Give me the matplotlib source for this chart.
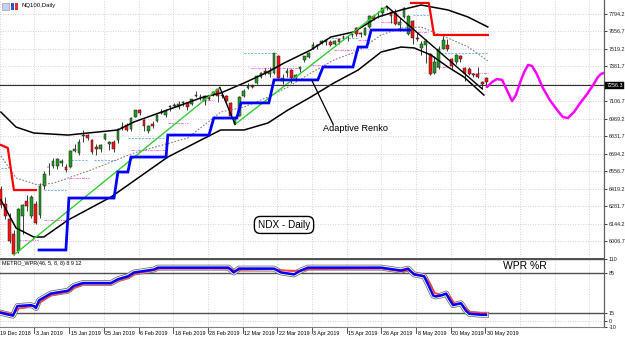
import matplotlib
matplotlib.use("Agg")
import matplotlib.pyplot as plt
import matplotlib.patheffects as pe
import matplotlib.transforms as mtransforms
from matplotlib.patches import Rectangle

plt.rcParams['font.family'] = ['Liberation Sans', 'DejaVu Sans']

# ---------------- data ----------------
opens = [6420, 6300, 6180, 6060, 5930, 6200, 6320, 6200, 6300, 6210,
         6440, 6590, 6600, 6600, 6620, 6590, 6590, 6715, 6700, 6830,
         6840, 6800, 6750, 6730, 6810, 6770, 6790, 6800, 6900, 6920,
         6885, 6985, 7040, 6960, 6870, 6930, 6950, 7020, 7000, 7060,
         7070, 7060, 7095, 7090, 7085, 7160, 7140, 7110, 7140, 7165,
         7200, 7155, 7150, 7090, 6930, 6990, 7150, 7210, 7225, 7250,
         7300, 7345, 7320, 7330, 7460, 7270, 7330, 7350, 7290, 7360,
         7430, 7455, 7520, 7550, 7565, 7570, 7570, 7560, 7595, 7610,
         7615, 7630, 7680, 7640, 7630, 7690, 7780, 7800, 7800, 7840,
         7810, 7800, 7710, 7770, 7640, 7740, 7600, 7530, 7550, 7480,
         7330, 7380, 7520, 7550, 7440, 7420, 7460, 7370, 7360, 7320,
         7320, 7260, 7290]
highs = [6440, 6350, 6230, 6090, 6270, 6300, 6370, 6370, 6320, 6460,
         6560, 6620, 6660, 6660, 6650, 6610, 6725, 6770, 6810, 6880,
         6850, 6810, 6770, 6770, 6860, 6795, 6800, 6900, 6945, 6935,
         6980, 7040, 7045, 6970, 6920, 6950, 7010, 7045, 7050, 7075,
         7090, 7110, 7110, 7100, 7125, 7190, 7165, 7155, 7160, 7185,
         7215, 7170, 7155, 7100, 6990, 7145, 7200, 7250, 7245, 7310,
         7340, 7370, 7380, 7490, 7470, 7320, 7370, 7360, 7320, 7385,
         7465, 7495, 7570, 7560, 7590, 7600, 7590, 7590, 7600, 7630,
         7625, 7650, 7690, 7650, 7690, 7790, 7795, 7820, 7845, 7860,
         7815, 7830, 7760, 7850, 7785, 7750, 7650, 7580, 7600, 7490,
         7460, 7540, 7620, 7600, 7450, 7480, 7470, 7380, 7380, 7330,
         7380, 7270, 7300]
lows = [6270, 6180, 5990, 5897, 5915, 6060, 6240, 6190, 6140, 6190,
        6420, 6530, 6580, 6570, 6600, 6550, 6585, 6705, 6680, 6790,
        6800, 6690, 6680, 6710, 6800, 6720, 6710, 6780, 6880, 6870,
        6870, 6980, 6995, 6870, 6860, 6900, 6945, 7005, 6980, 7030,
        7060, 7050, 7070, 7040, 7080, 7140, 7120, 7080, 7120, 7145,
        7100, 7130, 7100, 6975, 6925, 6990, 7140, 7200, 7210, 7240,
        7290, 7310, 7300, 7320, 7280, 7240, 7300, 7250, 7270, 7340,
        7420, 7450, 7515, 7520, 7560, 7550, 7540, 7550, 7560, 7590,
        7580, 7610, 7620, 7615, 7625, 7685, 7745, 7760, 7780, 7825,
        7720, 7710, 7660, 7765, 7630, 7560, 7580, 7470, 7410, 7310,
        7320, 7360, 7515, 7500, 7350, 7400, 7420, 7270, 7310, 7300,
        7290, 7200, 7230]
closes = [6290, 6200, 6010, 5905, 6262, 6290, 6280, 6355, 6150, 6443,
          6531, 6586, 6634, 6650, 6638, 6568, 6713, 6732, 6788, 6843,
          6815, 6711, 6728, 6766, 6848, 6789, 6732, 6887, 6906, 6883,
          6978, 7037, 7013, 6910, 6910, 6913, 7002, 7016, 7027, 7069,
          7080, 7087, 7097, 7061, 7122, 7152, 7142, 7148, 7128, 7180,
          7150, 7152, 7111, 6989, 6976, 7142, 7188, 7230, 7220, 7305,
          7330, 7330, 7345, 7484, 7289, 7290, 7346, 7290, 7310, 7378,
          7460, 7490, 7550, 7546, 7583, 7593, 7551, 7582, 7576, 7614,
          7610, 7631, 7637, 7638, 7680, 7780, 7752, 7802, 7840, 7846,
          7781, 7716, 7734, 7845, 7777, 7607, 7599, 7556, 7585, 7323,
          7414, 7520, 7592, 7517, 7382, 7472, 7437, 7326, 7318, 7310,
          7295, 7244, 7256]

date_labels = ["19 Dec 2018", "3 Jan 2019", "15 Jan 2019", "25 Jan 2019", "6 Feb 2019",
               "18 Feb 2019", "28 Feb 2019", "12 Mar 2019", "22 Mar 2019", "3 Apr 2019",
               "15 Apr 2019", "26 Apr 2019", "8 May 2019", "20 May 2019", "30 May 2019"]

# bands: (bar index, price)
upper_x = [0, 3.5, 7.6, 15.5, 27.0, 30.7, 46.1, 50.7, 56.1, 61.6, 65.3, 71.5, 76.1,
           81.4, 87.0, 92.3, 96.9, 103.1, 107.7, 112.3]
upper_y = [7022, 6904, 6857, 6841, 6881, 6944, 7133, 7172, 7251, 7338, 7408, 7511, 7613,
           7653, 7771, 7826, 7865, 7826, 7771, 7692]
lower_x = [0, 3.5, 7.6, 9.9, 15.5, 25.4, 38.5, 50.7, 56.1, 61.6, 66.2, 71.5, 76.8,
           82.4, 87.7, 92.3, 95.3, 99.2, 103.1, 106.8, 111.4]
lower_y = [6330, 6109, 6038, 6038, 6172, 6353, 6668, 6881, 6881, 6936, 7038, 7141, 7251,
           7353, 7495, 7534, 7527, 7471, 7377, 7298, 7156]
mid_x = [0, 3.5, 8.5, 12.2, 20.8, 30.7, 43.1, 50.7, 56.1, 61.6, 66.2, 71.5, 76.8,
         82.4, 87.7, 92.3, 96.9, 103.1, 107.7, 112.3]
mid_y = [6676, 6503, 6448, 6463, 6566, 6700, 6818, 7022, 7062, 7141, 7219, 7330, 7432,
         7503, 7629, 7684, 7692, 7605, 7536, 7425]

# adaptive renko steps
renko_blue_x = [8.8, 15.0, 15.7, 26.1, 27.0, 29.3, 30.0, 38.1, 38.5, 48.0, 49.1, 54.4,
                55.4, 61.8, 63.0, 73.1, 74.3, 81.2, 82.4, 84.4, 85.4, 94.3]
renko_blue_y = [5936, 5936, 6345, 6345, 6550, 6550, 6668, 6668, 6841, 6841, 6975, 6975,
                7094, 7094, 7275, 7275, 7377, 7377, 7534, 7534, 7668, 7668]
renko_red_left_x = [0, 1.6, 3.0, 8.1]
renko_red_left_y = [6763, 6739, 6408, 6408]
renko_red_right_x = [94.6, 98.7, 99.9, 112.3]
renko_red_right_y = [7881, 7881, 7629, 7629]

# zigzag legs
zz_green = [((3, 5897), (50.5, 7215)), ((54, 6925), (89, 7855))]
zz_black = [((50.5, 7215), (54, 6925)), ((89, 7855), (111, 7205))]

# support / resistance dashes: (price, start bar, end bar)
blue_levels = [(6582, 0, 1.6), (6408, 9.9, 15.0), (6644, 15.5, 20.0), (6644, 21.5, 26.5),
               (6818, 29.3, 38.5), (6936, 39.2, 41.5), (7487, 56.1, 63.9), (7605, 75.4, 82.4),
               (7786, 95.0, 98.5), (7487, 101.5, 112.3)]
pink_levels = [(6014, 3.9, 8.5), (6172, 9.9, 15.5), (6503, 15.7, 20.3), (6723, 30.0, 38.5),
               (6936, 38.5, 43.1), (7117, 46.1, 49.1), (7369, 57.7, 69.2), (7393, 71.5, 75.4),
               (7511, 76.8, 81.4), (7590, 82.4, 85.4), (7731, 87.7, 92.3), (7652, 94.6, 98.5),
               (7377, 100.3, 103.1), (7330, 108.4, 112.3)]

# magenta projection
proj_x = [112.1, 113.3, 114.4, 115.6, 116.7, 117.9, 118.8, 119.7, 120.7, 121.6, 122.5,
          123.6, 125.0, 126.6, 128.3, 129.6, 130.8, 132.2, 133.6, 135.2, 136.6, 137.7,
          138.4, 139.1]
proj_y = [7219, 7259, 7282, 7275, 7196, 7109, 7156, 7251, 7338, 7393, 7385,
          7322, 7212, 7117, 7038, 6983, 6975, 7023, 7093, 7164, 7235, 7298,
          7322, 7330]

price_ticks = [7794.2, 7656.7, 7519.2, 7381.7, 7244.2, 7106.7, 6969.2, 6831.7,
               6694.2, 6556.7, 6419.2, 6281.7, 6144.2, 6006.7]
last_price = 7256.3
last_line = 7232

# WPR sub-window
wpr_x = [0, 2.8, 3.8, 6.9, 7.6, 8.1, 8.8, 11.5, 15.5, 16.8, 18.9, 25.4, 27.0, 29.3, 30.7,
         35.3, 36.2, 39.9, 52.5, 53.7, 54.9, 63.0, 64.6, 67.6, 69.2, 70.8, 76.8, 87.7,
         90.7, 92.3, 93.9, 95.3, 97.6, 98.7, 99.7, 100.3, 101.5, 102.7, 103.3, 104.3,
         106.1, 107.3, 108.0, 110.7, 111.9]
wpr_y = [14.6, 9.5, 26.5, 28.2, 26.5, 23.1, 36.7, 48.7, 53.8, 62.3, 67.4, 67.4, 74.2, 79.3,
         86.1, 91.3, 94.7, 94.7, 94.7, 86.1, 93.0, 93.0, 86.1, 82.7, 89.6, 94.7, 94.7, 94.7,
         91.3, 89.6, 93.0, 82.7, 79.3, 62.3, 45.3, 43.6, 45.3, 48.7, 40.2, 28.2,
         31.6, 18.0, 12.9, 11.2, 11.2]
wpr_sig_x = [0, 2.8, 4.0, 7.0, 8.1, 9.0, 11.5, 15.5, 17.0, 19.0, 25.4, 27.0, 29.3, 31.0,
             35.3, 36.5, 53.0, 54.0, 55.5, 63.0, 64.6, 67.6, 69.2, 71.0, 88.0, 90.7,
             92.3, 94.0, 95.3, 97.6, 99.0, 100.0, 101.5, 102.7, 103.6, 104.5, 106.1,
             107.5, 108.3, 110.7, 111.9]
wpr_sig_y = [16, 12, 22, 27, 26, 33, 46, 52, 59, 66, 66, 72, 77, 84, 90, 93, 93, 89, 91, 92,
             90, 89, 89, 92, 93, 90, 88, 90, 84, 80, 66, 50, 46, 48, 42, 31, 31, 20, 15,
             14, 14]
wpr_levels = [110, 85, 15]

# ---------------- figure ----------------
W, H = 625, 337
fig = plt.figure(figsize=(W / 100, H / 100), dpi=100)
fig.patch.set_facecolor("white")
ax = fig.add_axes([0, 1 - 257 / H, 604 / W, 257 / H])
ax2 = fig.add_axes([0, 1 - 326.7 / H, 604 / W, (326.7 - 259) / H])

XMIN, XMAX = -0.2, 139.1
grid_col = "#d4bcc6"
txt_fs = 3.9

for a in (ax, ax2):
    a.set_xlim(XMIN, XMAX)
    for s in ("left", "top", "bottom"):
        a.spines[s].set_visible(False)
    a.spines["right"].set_color("#606060")
    a.spines["right"].set_linewidth(0.9)
    a.yaxis.tick_right()
    a.tick_params(axis="y", length=2.5, width=0.6, pad=1, labelsize=txt_fs,
                  colors="#202020")
    a.set_xticks([])
    for gx in range(0, 140, 8):
        a.axvline(gx - 0.25, color=grid_col, lw=0.6, ls=(0, (1, 2)), zorder=0)

# main price window
ax.set_ylim(5880.7, 7904.4)
ax.set_yticks(price_ticks)
ax.set_yticklabels(["" if abs(p - 7244.2) < 0.01 else f"{p:.1f}" for p in price_ticks])
for p in price_ticks:
    ax.axhline(p, color=grid_col, lw=0.6, ls=(0, (1, 2)), zorder=0)

# candles
for i in range(len(closes)):
    o, h, l, c = opens[i], highs[i], lows[i], closes[i]
    ax.vlines(i, l, h, color="#202020", lw=0.6, zorder=3)
    col = "#1f9a1f" if c >= o else "#ff1010"
    ax.bar(i, max(abs(c - o), 4), bottom=min(o, c), width=0.64, color=col,
           edgecolor="#202020", linewidth=0.35, zorder=4)

# bands
ax.plot(upper_x, upper_y, color="black", lw=1.1, zorder=5)
ax.plot(lower_x, lower_y, color="black", lw=1.1, zorder=5)
ax.plot(mid_x, mid_y, color="#808080", lw=0.8, ls=(0, (1.5, 1.5)), zorder=5)

# levels
for p, x0, x1 in blue_levels:
    ax.plot([x0, x1], [p, p], color="#6fb4ff", lw=0.7, ls=(0, (2, 1.5)), zorder=2)
for p, x0, x1 in pink_levels:
    ax.plot([x0, x1], [p, p], color="#ff70ff", lw=0.7, ls=(0, (3, 1.2, 1, 1.2)), zorder=2)

# zigzag
for (x0, y0), (x1, y1) in zz_green:
    ax.plot([x0, x1], [y0, y1], color="#33cc33", lw=1.0, zorder=6)
for (x0, y0), (x1, y1) in zz_black:
    ax.plot([x0, x1], [y0, y1], color="black", lw=1.0, zorder=6)

# renko
ax.plot(renko_blue_x, renko_blue_y, color="#0000ff", lw=2.0, zorder=7,
        solid_joinstyle="miter")
ax.plot(renko_red_left_x, renko_red_left_y, color="#ff0000", lw=1.6, zorder=7)
ax.plot(renko_red_right_x, renko_red_right_y, color="#ff0000", lw=1.6, zorder=7)

# projection
ax.plot(proj_x, proj_y, color="#ff00ff", lw=1.8, zorder=7, solid_capstyle="round",
        solid_joinstyle="round")

# last price line and box
ax.axhline(last_line, color="#303030", lw=0.8, zorder=6)
trans = mtransforms.blended_transform_factory(ax.transAxes, ax.transData)
ax.text(1.004, last_line, f"{last_price:.1f}", transform=trans, fontsize=txt_fs,
        color="white", va="center", ha="left", zorder=10, clip_on=False,
        bbox=dict(boxstyle="square,pad=0.25", fc="black", ec="black", lw=0.3))

# annotations
ax.plot([71.8, 76.6], [7266, 6928], color="black", lw=0.9, zorder=8)
ax.text(74.3, 6889, "Adaptive Renko", fontsize=6.6, color="black", va="center",
        ha="left", zorder=9)
ax.text(65.3, 6133, "NDX - Daily", fontsize=7.2, color="black", va="center",
        ha="center", zorder=9,
        bbox=dict(boxstyle="round,pad=0.35,rounding_size=0.6", fc="white", ec="black", lw=1.0))

# title + icon
ax.add_patch(Rectangle((2 / 604, 1 - 10 / 257), 7 / 604, 7 / 257, transform=ax.transAxes,
                       fc="#c8d0e8", ec="#8090b0", lw=0.4, zorder=10, clip_on=False))
ax.add_patch(Rectangle((11 / 604, 1 - 10 / 257), 3 / 604, 7 / 257, transform=ax.transAxes,
                       fc="#3050d0", ec="none", zorder=10, clip_on=False))
ax.add_patch(Rectangle((14.5 / 604, 1 - 10 / 257), 3 / 604, 7 / 257, transform=ax.transAxes,
                       fc="#e03030", ec="none", zorder=10, clip_on=False))
ax.text(22 / 604, 1 - 5.5 / 257, "NQ100,Daily", transform=ax.transAxes, fontsize=4.3,
        color="black", va="center", ha="left", zorder=10)

# WPR window
ax2.set_ylim(-10, 110)
ax2.set_yticks([110, 85, 15, 0, -10])
ax2.set_yticklabels(["110", "85", "15", "0", "-10"])
ax2.spines["top"].set_visible(True)
ax2.spines["top"].set_color("#505050")
ax2.spines["top"].set_linewidth(1.4)
ax2.spines["bottom"].set_visible(True)
ax2.spines["bottom"].set_color("#808080")
ax2.spines["bottom"].set_linewidth(0.8)
for lv in wpr_levels:
    ax2.axhline(lv, color="#505050", lw=1.0, zorder=1)
ax2.axhline(0, color=grid_col, lw=0.6, ls=(0, (1, 2)), zorder=0)

env = [pe.Stroke(linewidth=4.2, foreground="#6a6a6a"),
       pe.Stroke(linewidth=3.1, foreground="white")]
ax2.plot(wpr_x, wpr_y, color="white", lw=3.1, zorder=3, path_effects=env)
ax2.plot(wpr_sig_x, wpr_sig_y, color="#ff4040", lw=1.4, zorder=4)
ax2.plot(wpr_x, wpr_y, color="#0000ff", lw=1.8, zorder=5)

ax2.text(2 / 604, 1 - 5 / 67.7, "METRO_WPR(46, 5, 8, 8) 8 9 12", transform=ax2.transAxes,
         fontsize=3.9, color="black", va="center", ha="left", zorder=10)
ax2.text(115.8, 97.6, "WPR %R", fontsize=7.5, color="black", va="center", ha="left",
         zorder=10)

# date labels with ticks below the sub-window
dtrans = mtransforms.blended_transform_factory(ax2.transData, ax2.transAxes)
for k, lab in enumerate(date_labels):
    x = k * 8
    if k > 0:
        ax2.plot([x - 0.25, x - 0.25], [0, -0.09], transform=dtrans, color="#404040",
                 lw=0.6, clip_on=False)
    ax2.text(x - 0.2 if k == 0 else x + 0.1, -0.095, lab,
             transform=dtrans, fontsize=3.9, color="black", va="center", ha="left",
             clip_on=False)

fig.savefig("out.png", dpi=100)
